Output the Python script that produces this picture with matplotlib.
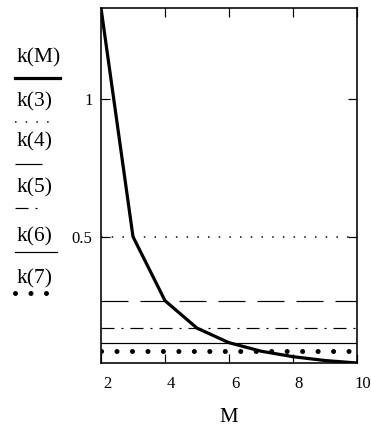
import matplotlib
matplotlib.use("Agg")
import matplotlib.pyplot as plt
from matplotlib.lines import Line2D
from matplotlib.transforms import ScaledTranslation

# values
M = [2, 3, 4, 5, 6, 7, 8, 9, 10]
k = [1.333, 0.5, 0.267, 0.167, 0.114, 0.083, 0.063, 0.049, 0.040]
labels = ["k(M)", "k(3)", "k(4)", "k(5)", "k(6)", "k(7)"]
xticks = [2, 4, 6, 8, 10]
yticks = [0.5, 1]

plt.rcParams['font.family'] = ['Liberation Serif', 'DejaVu Serif']
plt.rcParams['lines.scale_dashes'] = False

W, H = 371, 430
fig = plt.figure(figsize=(W / 100, H / 100), dpi=100)
ax = fig.add_axes([101 / W, 1 - 363 / H, 256 / W, 355 / H])

def pt(px):
    return px * 0.72

# line styles for the curve and the constant levels k(3)..k(7)
styles = [
    dict(color="black", lw=pt(3.2), ls="-"),
    dict(color="black", lw=pt(1.5), dashes=(pt(1.5), pt(9.2)), dash_capstyle="butt"),
    dict(color="black", lw=pt(1.2), dashes=(pt(27), pt(12))),
    dict(color="black", lw=pt(1.2), dashes=(pt(13), pt(7), pt(2), pt(7))),
    dict(color="black", lw=pt(1.2), ls="-"),
    dict(color="black", lw=pt(5), dashes=(0.05, pt(15.4)), dash_capstyle="round"),
]

ax.plot(M, k, **styles[0])
for i, m in enumerate([3, 4, 5, 6, 7]):
    level = k[M.index(m)]
    ax.plot(M, [level] * len(M), **styles[i + 1])

ax.set_xlim(M[0], M[-1])
ax.set_ylim(min(k), max(k))
ax.set_xticks(xticks)
ax.set_xticklabels([str(t) for t in xticks])
ax.set_yticks(yticks)
ax.set_yticklabels(["0.5", "1"])
ax.tick_params(direction="in", length=pt(9), width=pt(1.2), top=True, right=True,
               labelsize=12, pad=6, colors="black")
ax.tick_params(axis="x", pad=9)
# Mathcad puts the x labels a little to the right of the ticks
shift = ScaledTranslation(6 / 100, 0, fig.dpi_scale_trans)
for lbl in ax.get_xticklabels():
    lbl.set_transform(lbl.get_transform() + shift)
for s in ax.spines.values():
    s.set_linewidth(pt(1.6))
ax.set_xlabel("M", fontsize=15, labelpad=12)

# Mathcad style legend on the left: label with the line sample underneath
def fx(x):
    return x / W

def fy(y):
    return 1 - y / H

text_y = [58, 102, 142, 188, 237, 279]
line_y = [78, 122, 164, 208, 252, 293]
line_end = [60, 50, 43, 43, 57, 50]
for lab, ty, ly, le, st in zip(labels, text_y, line_y, line_end, styles):
    fig.text(fx(17), fy(ty), lab, fontsize=15.5, va="center", ha="left")
    fig.add_artist(Line2D([fx(15), fx(le)], [fy(ly), fy(ly)],
                          transform=fig.transFigure, **st))

fig.savefig("out.png", dpi=100)
